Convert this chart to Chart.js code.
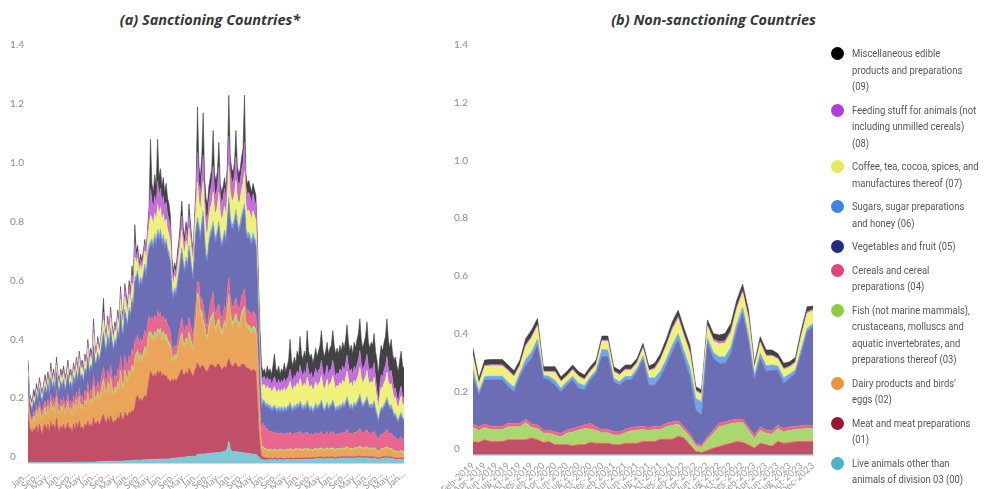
<!DOCTYPE html>
<html>
<head>
<meta charset="utf-8">
<title>Food imports by SITC division</title>
<script src="https://cdn.jsdelivr.net/npm/chart.js@4.4.1/dist/chart.umd.min.js"></script>
<style>
  html, body { margin: 0; padding: 0; background: #fff; }
  body { width: 987px; height: 489px; position: relative; overflow: hidden; }
  .panel-title { position: absolute; top: 10px; font: italic 700 14.5px "Open Sans", Lato, sans-serif; color: #363636; text-align: center; line-height: 20px; white-space: nowrap; }
  #titleA { left: 0; width: 420px; }
  #titleB { left: 440px; width: 547px; }
  canvas { position: absolute; top: 0; }
  #cLeft { left: 0; }
  #cRight { left: 440px; }
  #legend { position: absolute; left: 831px; top: 45px; width: 156px; }
  .item { display: flex; align-items: flex-start; margin-bottom: 7px; }
  .dot { width: 13px; height: 13px; border-radius: 50%; flex: 0 0 13px; margin-top: 2px; margin-right: 8px; }
  .txt { font: 11.5px Roboto, sans-serif; color: #555; line-height: 16.5px; white-space: pre; transform: scaleX(0.82); transform-origin: 0 0; }
</style>
</head>
<body>
<div id="titleA" class="panel-title">(a) Sanctioning Countries*</div>
<div id="titleB" class="panel-title">(b) Non-sanctioning Countries</div>
<canvas id="cLeft" width="420" height="489"></canvas>
<canvas id="cRight" width="547" height="489"></canvas>
<div id="legend"></div>
<script>
// Product groups, bottom of the stack first (line breaks as set in the legend)
const seriesNames = [
  "Live animals other than\nanimals of division 03 (00)",
  "Meat and meat preparations\n(01)",
  "Dairy products and birds\u2019\neggs (02)",
  "Fish (not marine mammals),\ncrustaceans, molluscs and\naquatic invertebrates, and\npreparations thereof (03)",
  "Cereals and cereal\npreparations (04)",
  "Vegetables and fruit (05)",
  "Sugars, sugar preparations\nand honey (06)",
  "Coffee, tea, cocoa, spices, and\nmanufactures thereof (07)",
  "Feeding stuff for animals (not\nincluding unmilled cereals)\n(08)",
  "Miscellaneous edible\nproducts and preparations\n(09)"
];
const dotColors  = ["#4ab4c8", "#9e1232", "#e6953c", "#8dcc42", "#e5437b", "#282a82", "#3e86e1", "#e6e95c", "#b03ddc", "#000000"];
const fillColors = ["#7fc8d7", "#c14f67", "#eba55a", "#a9d870", "#e9678e", "#6b6eb4", "#6fa5ea", "#eef17c", "#c46fe0", "#424242"];

const MONTHS = ["Jan","Feb","Mar","Apr","May","Jun","Jul","Aug","Sep","Oct","Nov","Dec"];
function monthLabels(year, month, count) {
  const out = [];
  for (let k = 0; k < count; k++) {
    const m = (month + k) % 12, y = year + Math.floor((month + k) / 12);
    out.push(MONTHS[m] + "-" + y);
  }
  return out;
}
const sanctMonths = monthLabels(2002, 0, 265);   // Jan-2002 … Jan-2024
const nonMonths   = monthLabels(2019, 1, 59);    // Feb-2019 … Dec-2023

// ---- (a) sanctioning countries ----
const sanctLive = [
0.002,0.002,0.002,0.002,0.002,0.002,0.002,0.002,0.002,0.002,0.002,0.002,0.002,0.002,0.002,0.002,0.002,0.002,0.002,0.002,0.002,0.002,0.002,0.002,
0.002,0.002,0.002,0.002,0.002,0.002,0.002,0.003,0.003,0.003,0.003,0.003,0.003,0.003,0.003,0.003,0.003,0.003,0.003,0.003,0.003,0.003,0.003,0.003,
0.004,0.004,0.004,0.005,0.005,0.005,0.005,0.005,0.006,0.006,0.006,0.006,0.006,0.006,0.007,0.007,0.007,0.007,0.007,0.007,0.008,0.008,0.008,0.008,0.008,0.009,0.009,0.01,
0.01,0.01,0.01,0.01,0.01,0.011,0.011,0.011,0.012,0.012,0.012,0.012,0.012,0.013,0.013,0.013,0.013,0.013,0.014,0.014,0.014,0.014,0.014,0.014,0.015,
0.016,0.016,0.017,0.017,0.018,0.018,0.019,0.019,0.02,0.02,0.021,0.021,0.022,0.022,0.022,0.023,0.023,0.024,
0.03,0.03,0.03,0.031,0.031,0.031,0.032,0.032,0.033,0.033,0.034,0.034,0.035,0.035,0.036,0.036,0.037,0.037,0.038,0.04,0.042,0.05,0.075,0.05,0.04,0.038,0.038,0.04,0.038,0.037,0.036,0.036,0.035,0.035,0.034,0.033,0.032,0.032,0.031,0.03,0.03,0.03,
0.025,0.02,0.015,0.012,
0.011,0.010,0.011,0.010,0.011,0.012,0.011,0.010,0.012,0.011,
0.010,0.011,0.012,0.011,0.010,0.011,0.011,0.012,0.011,0.012,
0.012,0.011,0.012,0.013,0.012,0.012,0.013,0.012,0.012,0.013,
0.013,0.014,0.013,0.012,0.014,0.013,0.014,0.015,0.014,0.015,
0.015,0.016,0.015,0.014,0.015,0.016,0.015,0.016,0.015,0.016,
0.015,0.014,0.015,0.016,0.015,0.016,0.017,0.016,0.017,0.018,
0.017,0.016,0.017,0.016,0.017,0.018,0.017,0.018,0.019,0.018,
0.017,0.018,0.017,0.018,0.017,0.016,0.017,0.016,0.017,0.015,
0.014,0.012,0.014,0.015,0.016,0.017,0.017,0.018,0.017,0.016,
0.016,0.015,0.014,0.013,0.012,0.012,0.013,0.013,0.012,0.012
];
const sanctMeat = [
0.17,0.12,0.11,0.10,0.115,0.11,0.125,0.10,0.13,0.11,0.095,0.12,0.13,0.11,0.13,0.10,0.14,0.12,0.13,0.11,0.15,0.12,0.105,0.125,
0.115,0.13,0.11,0.12,0.135,0.11,0.12,0.10,0.13,0.11,0.135,0.115,0.14,0.115,0.12,0.11,0.13,0.12,0.14,0.12,0.13,0.12,0.15,0.13,
0.13,0.14,0.125,0.135,0.15,0.16,0.14,0.13,0.15,0.13,0.155,0.14,0.13,0.14,0.135,0.15,0.14,0.165,0.145,0.14,0.165,0.155,0.15,0.165,0.16,0.17,0.165,0.18,
0.21,0.22,0.20,0.21,0.20,0.21,0.22,0.21,0.24,0.27,0.30,0.29,0.28,0.29,0.28,0.30,0.29,0.30,0.28,0.29,0.28,0.285,0.27,0.27,0.26,
0.27,0.26,0.27,0.26,0.27,0.28,0.29,0.30,0.28,0.28,0.29,0.28,0.30,0.29,0.28,0.27,0.29,0.30,
0.31,0.30,0.29,0.30,0.30,0.29,0.28,0.28,0.29,0.30,0.30,0.30,0.29,0.29,0.30,0.30,0.29,0.28,0.285,0.29,0.28,0.29,0.28,0.29,0.29,0.29,0.30,0.30,0.29,0.29,0.29,0.30,0.30,0.30,0.29,0.29,0.29,0.285,0.28,0.29,0.285,0.28,
0.20,0.10,0.04,0.01,
0.010,0.008,0.007,0.006,0.005,0.006,0.005,0.004,0.005,0.006,
0.005,0.004,0.005,0.006,0.005,0.004,0.005,0.005,0.004,0.005,
0.005,0.004,0.005,0.005,0.004,0.005,0.005,0.004,0.005,0.005,
0.005,0.004,0.005,0.005,0.004,0.005,0.005,0.004,0.005,0.005,
0.005,0.004,0.005,0.004,0.005,0.005,0.004,0.005,0.005,0.004,
0.005,0.004,0.005,0.005,0.004,0.005,0.005,0.004,0.005,0.005,
0.005,0.004,0.005,0.004,0.005,0.005,0.004,0.005,0.005,0.004,
0.005,0.004,0.005,0.005,0.004,0.005,0.005,0.004,0.005,0.004,
0.004,0.004,0.005,0.004,0.005,0.005,0.004,0.005,0.005,0.004,
0.005,0.004,0.004,0.004,0.004,0.004,0.004,0.004,0.004,0.004
];
const sanctDairy = [
0.04,0.03,0.025,0.03,0.035,0.03,0.045,0.045,0.05,0.045,0.05,0.045,0.05,0.045,0.055,0.05,0.06,0.05,0.06,0.05,0.065,0.055,0.05,0.06,
0.055,0.06,0.05,0.055,0.065,0.055,0.06,0.055,0.065,0.06,0.07,0.06,0.075,0.065,0.07,0.06,0.075,0.07,0.09,0.07,0.08,0.075,0.10,0.08,
0.08,0.09,0.085,0.09,0.10,0.11,0.10,0.09,0.11,0.095,0.12,0.10,0.09,0.10,0.095,0.11,0.10,0.13,0.11,0.105,0.13,0.12,0.115,0.13,0.12,0.14,0.13,0.15,
0.14,0.14,0.13,0.14,0.13,0.14,0.15,0.14,0.15,0.15,0.12,0.12,0.12,0.13,0.12,0.13,0.13,0.13,0.12,0.13,0.12,0.125,0.12,0.115,0.11,
0.07,0.065,0.07,0.07,0.08,0.09,0.10,0.11,0.10,0.09,0.10,0.095,0.11,0.10,0.09,0.085,0.12,0.15,
0.22,0.22,0.18,0.17,0.14,0.13,0.11,0.10,0.13,0.14,0.15,0.16,0.13,0.12,0.13,0.14,0.12,0.115,0.12,0.14,0.13,0.17,0.20,0.16,0.14,0.13,0.14,0.15,0.14,0.13,0.14,0.16,0.17,0.18,0.14,0.13,0.13,0.13,0.125,0.13,0.13,0.13,
0.15,0.12,0.06,0.03,
0.030,0.028,0.026,0.027,0.025,0.026,0.024,0.025,0.027,0.025,
0.024,0.026,0.025,0.027,0.024,0.026,0.025,0.027,0.026,0.028,
0.026,0.025,0.027,0.026,0.028,0.026,0.028,0.027,0.025,0.027,
0.025,0.028,0.026,0.024,0.026,0.023,0.025,0.027,0.024,0.026,
0.026,0.028,0.025,0.023,0.025,0.027,0.024,0.026,0.026,0.028,
0.025,0.023,0.025,0.024,0.026,0.024,0.026,0.025,0.027,0.029,
0.026,0.024,0.025,0.023,0.026,0.025,0.027,0.028,0.030,0.027,
0.025,0.026,0.027,0.029,0.026,0.025,0.026,0.025,0.027,0.024,
0.022,0.018,0.022,0.025,0.024,0.026,0.027,0.029,0.026,0.025,
0.025,0.023,0.021,0.022,0.020,0.019,0.021,0.022,0.020,0.020
];
const sanctFish = [
0.008,0.008,0.008,0.008,0.008,0.008,0.008,0.008,0.008,0.008,0.008,0.008,0.008,0.008,0.008,0.008,0.008,0.008,0.008,0.008,0.008,0.008,0.008,0.008,
0.008,0.008,0.008,0.008,0.008,0.008,0.008,0.008,0.008,0.008,0.008,0.008,0.008,0.008,0.008,0.008,0.008,0.008,0.008,0.008,0.008,0.008,0.008,0.008,
0.01,0.01,0.01,0.01,0.011,0.012,0.011,0.011,0.012,0.011,0.012,0.011,0.011,0.012,0.011,0.012,0.012,0.013,0.012,0.012,0.013,0.013,0.012,0.013,0.013,0.014,0.014,0.015,
0.014,0.014,0.013,0.014,0.014,0.014,0.015,0.014,0.015,0.015,0.015,0.015,0.015,0.015,0.015,0.015,0.015,0.016,0.015,0.015,0.015,0.015,0.015,0.014,0.014,
0.013,0.012,0.013,0.012,0.013,0.014,0.014,0.015,0.014,0.014,0.014,0.014,0.015,0.014,0.014,0.013,0.015,0.016,
0.018,0.018,0.017,0.017,0.017,0.016,0.016,0.015,0.016,0.016,0.017,0.018,0.016,0.016,0.016,0.017,0.016,0.016,0.016,0.016,0.016,0.017,0.018,0.017,0.017,0.017,0.017,0.018,0.017,0.017,0.017,0.017,0.018,0.018,0.017,0.016,0.016,0.016,0.016,0.016,0.016,0.016,
0.012,0.008,0.006,0.005,
0.005,0.005,0.004,0.004,0.004,0.004,0.004,0.004,0.004,0.004,
0.004,0.004,0.004,0.004,0.004,0.004,0.004,0.004,0.004,0.004,
0.004,0.004,0.004,0.004,0.004,0.004,0.004,0.004,0.004,0.004,
0.004,0.004,0.004,0.004,0.004,0.004,0.004,0.004,0.004,0.004,
0.004,0.004,0.004,0.004,0.004,0.004,0.004,0.004,0.004,0.004,
0.004,0.004,0.004,0.004,0.004,0.004,0.004,0.004,0.004,0.004,
0.004,0.004,0.004,0.004,0.004,0.004,0.004,0.004,0.004,0.004,
0.004,0.004,0.004,0.004,0.004,0.004,0.004,0.004,0.004,0.004,
0.004,0.003,0.004,0.004,0.004,0.004,0.004,0.004,0.004,0.004,
0.004,0.004,0.003,0.003,0.003,0.003,0.003,0.004,0.003,0.003
];
const sanctCereal = [
0.02,0.015,0.015,0.012,0.016,0.015,0.018,0.015,0.02,0.018,0.016,0.02,0.022,0.02,0.022,0.018,0.025,0.02,0.024,0.02,0.026,0.022,0.02,0.024,
0.022,0.025,0.022,0.024,0.027,0.022,0.025,0.022,0.026,0.024,0.028,0.025,0.03,0.026,0.028,0.025,0.03,0.028,0.034,0.028,0.03,0.028,0.04,0.032,
0.03,0.034,0.03,0.033,0.036,0.04,0.035,0.035,0.04,0.036,0.042,0.038,0.035,0.04,0.037,0.042,0.04,0.05,0.042,0.04,0.05,0.046,0.044,0.05,0.046,0.055,0.05,0.06,
0.05,0.052,0.048,0.05,0.05,0.052,0.055,0.05,0.055,0.05,0.04,0.06,0.05,0.055,0.05,0.06,0.05,0.055,0.05,0.052,0.05,0.052,0.05,0.048,0.046,
0.03,0.03,0.032,0.03,0.035,0.04,0.045,0.05,0.045,0.042,0.045,0.043,0.05,0.046,0.042,0.04,0.05,0.055,
0.04,0.045,0.04,0.045,0.05,0.04,0.035,0.035,0.04,0.05,0.06,0.07,0.05,0.045,0.05,0.05,0.045,0.045,0.045,0.05,0.05,0.06,0.06,0.05,0.05,0.05,0.05,0.055,0.05,0.048,0.05,0.055,0.055,0.06,0.05,0.048,0.05,0.048,0.047,0.05,0.048,0.048,
0.05,0.05,0.05,0.048,
0.080,0.075,0.070,0.070,0.065,0.060,0.062,0.058,0.060,0.056,
0.055,0.057,0.054,0.056,0.053,0.055,0.052,0.055,0.054,0.056,
0.053,0.052,0.055,0.053,0.056,0.054,0.058,0.055,0.052,0.054,
0.052,0.056,0.053,0.050,0.052,0.048,0.050,0.054,0.050,0.052,
0.052,0.056,0.050,0.048,0.050,0.054,0.049,0.052,0.052,0.056,
0.052,0.048,0.050,0.049,0.052,0.050,0.053,0.051,0.054,0.058,
0.053,0.050,0.052,0.049,0.053,0.051,0.054,0.056,0.060,0.054,
0.051,0.053,0.055,0.058,0.053,0.050,0.052,0.051,0.055,0.049,
0.045,0.040,0.046,0.050,0.049,0.052,0.054,0.058,0.053,0.050,
0.052,0.048,0.045,0.046,0.042,0.040,0.044,0.046,0.042,0.042
];
const sanctVeg = [
0.05,0.03,0.03,0.028,0.032,0.03,0.035,0.035,0.04,0.038,0.035,0.04,0.045,0.045,0.048,0.042,0.05,0.048,0.05,0.048,0.055,0.05,0.052,0.055,
0.052,0.055,0.052,0.056,0.06,0.056,0.058,0.056,0.06,0.06,0.064,0.062,0.068,0.065,0.068,0.066,0.07,0.07,0.08,0.074,0.078,0.078,0.095,0.085,
0.085,0.09,0.09,0.095,0.10,0.11,0.105,0.105,0.11,0.108,0.115,0.11,0.108,0.115,0.115,0.125,0.125,0.14,0.13,0.13,0.145,0.14,0.135,0.15,0.145,0.16,0.155,0.20,
0.20,0.205,0.19,0.195,0.20,0.205,0.21,0.205,0.22,0.23,0.25,0.25,0.25,0.26,0.26,0.26,0.26,0.265,0.26,0.26,0.25,0.255,0.245,0.24,0.23,
0.18,0.175,0.18,0.18,0.19,0.20,0.21,0.22,0.21,0.20,0.215,0.205,0.225,0.215,0.20,0.19,0.22,0.24,
0.20,0.18,0.20,0.24,0.30,0.24,0.22,0.225,0.23,0.23,0.22,0.22,0.24,0.245,0.245,0.26,0.245,0.24,0.245,0.24,0.23,0.22,0.25,0.25,0.26,0.27,0.27,0.28,0.27,0.26,0.265,0.26,0.265,0.27,0.25,0.245,0.25,0.245,0.24,0.25,0.24,0.235,
0.18,0.14,0.10,0.075,
0.070,0.075,0.070,0.078,0.074,0.080,0.072,0.078,0.080,0.076,
0.074,0.080,0.072,0.078,0.075,0.082,0.076,0.080,0.084,0.090,
0.082,0.078,0.084,0.080,0.088,0.084,0.092,0.086,0.080,0.086,
0.082,0.095,0.086,0.080,0.084,0.076,0.082,0.088,0.082,0.086,
0.088,0.096,0.085,0.080,0.084,0.090,0.082,0.086,0.088,0.096,
0.088,0.080,0.085,0.082,0.088,0.084,0.090,0.086,0.092,0.100,
0.090,0.084,0.088,0.082,0.090,0.086,0.092,0.096,0.105,0.092,
0.086,0.090,0.094,0.100,0.090,0.085,0.088,0.086,0.092,0.080,
0.070,0.060,0.072,0.082,0.080,0.086,0.090,0.098,0.088,0.084,
0.086,0.078,0.070,0.072,0.064,0.060,0.068,0.074,0.064,0.064
];
const sanctSugar = [
0.006,0.006,0.006,0.006,0.006,0.006,0.006,0.006,0.006,0.006,0.006,0.006,0.006,0.006,0.006,0.006,0.006,0.006,0.006,0.006,0.006,0.006,0.006,0.006,
0.006,0.006,0.006,0.006,0.006,0.006,0.006,0.006,0.006,0.006,0.006,0.006,0.006,0.006,0.006,0.006,0.006,0.006,0.006,0.006,0.006,0.006,0.006,0.006,
0.008,0.008,0.008,0.009,0.009,0.01,0.009,0.009,0.01,0.009,0.01,0.01,0.009,0.01,0.01,0.011,0.01,0.012,0.011,0.011,0.012,0.012,0.011,0.012,0.012,0.013,0.013,0.015,
0.014,0.014,0.013,0.014,0.014,0.014,0.015,0.014,0.015,0.015,0.015,0.015,0.015,0.016,0.015,0.016,0.015,0.016,0.015,0.015,0.015,0.015,0.015,0.015,0.014,
0.014,0.013,0.014,0.013,0.014,0.015,0.015,0.016,0.015,0.015,0.015,0.015,0.016,0.015,0.015,0.014,0.016,0.016,
0.017,0.017,0.017,0.017,0.018,0.016,0.015,0.015,0.016,0.016,0.017,0.018,0.016,0.016,0.016,0.017,0.016,0.016,0.016,0.016,0.016,0.017,0.018,0.017,0.017,0.017,0.017,0.018,0.017,0.017,0.017,0.017,0.018,0.018,0.017,0.016,0.016,0.016,0.016,0.016,0.016,0.016,
0.014,0.012,0.01,0.01,
0.010,0.010,0.009,0.010,0.010,0.010,0.009,0.010,0.010,0.010,
0.010,0.010,0.009,0.010,0.010,0.010,0.010,0.010,0.011,0.011,
0.010,0.010,0.011,0.010,0.011,0.010,0.011,0.011,0.010,0.011,
0.010,0.011,0.010,0.010,0.010,0.009,0.010,0.011,0.010,0.010,
0.010,0.011,0.010,0.010,0.010,0.011,0.010,0.010,0.010,0.011,
0.010,0.010,0.010,0.010,0.010,0.010,0.011,0.010,0.011,0.012,
0.011,0.010,0.010,0.010,0.011,0.010,0.011,0.011,0.012,0.011,
0.010,0.011,0.011,0.012,0.010,0.010,0.010,0.010,0.011,0.010,
0.009,0.008,0.009,0.010,0.010,0.010,0.011,0.012,0.010,0.010,
0.010,0.010,0.009,0.009,0.008,0.008,0.009,0.009,0.008,0.008
];
const sanctCoffee = [
0.02,0.012,0.01,0.01,0.012,0.01,0.012,0.012,0.015,0.013,0.012,0.014,0.016,0.014,0.016,0.013,0.02,0.016,0.018,0.016,0.02,0.017,0.016,0.018,
0.017,0.02,0.018,0.019,0.022,0.018,0.02,0.018,0.021,0.02,0.023,0.02,0.025,0.022,0.023,0.021,0.025,0.024,0.03,0.025,0.027,0.026,0.04,0.03,
0.02,0.028,0.022,0.025,0.03,0.04,0.03,0.028,0.032,0.028,0.035,0.03,0.027,0.03,0.028,0.033,0.03,0.04,0.032,0.03,0.042,0.038,0.035,0.045,0.04,0.05,0.045,0.07,
0.04,0.042,0.038,0.04,0.035,0.04,0.045,0.04,0.05,0.06,0.09,0.07,0.065,0.07,0.065,0.085,0.07,0.075,0.065,0.07,0.065,0.068,0.063,0.06,0.058,
0.045,0.035,0.04,0.037,0.045,0.05,0.055,0.06,0.05,0.05,0.055,0.05,0.06,0.055,0.048,0.045,0.055,0.065,
0.12,0.08,0.08,0.09,0.10,0.085,0.08,0.075,0.08,0.08,0.085,0.10,0.08,0.08,0.082,0.10,0.08,0.075,0.078,0.08,0.075,0.085,0.11,0.085,0.08,0.08,0.082,0.10,0.08,0.078,0.08,0.085,0.09,0.11,0.08,0.075,0.076,0.074,0.072,0.075,0.073,0.07,
0.06,0.06,0.06,0.06,
0.050,0.055,0.052,0.058,0.056,0.058,0.054,0.060,0.062,0.058,
0.056,0.060,0.055,0.060,0.058,0.064,0.058,0.062,0.066,0.072,
0.064,0.060,0.066,0.064,0.070,0.068,0.076,0.070,0.066,0.072,
0.068,0.080,0.072,0.068,0.072,0.064,0.068,0.074,0.068,0.072,
0.075,0.082,0.072,0.066,0.070,0.078,0.068,0.072,0.075,0.082,
0.074,0.066,0.070,0.068,0.074,0.070,0.076,0.072,0.078,0.086,
0.076,0.070,0.074,0.068,0.076,0.072,0.078,0.082,0.090,0.078,
0.072,0.076,0.080,0.088,0.076,0.072,0.076,0.074,0.080,0.066,
0.050,0.040,0.055,0.068,0.066,0.072,0.076,0.085,0.074,0.070,
0.072,0.062,0.052,0.055,0.045,0.040,0.050,0.056,0.045,0.045
];
const sanctFeed = [
0.01,0.007,0.006,0.006,0.008,0.007,0.008,0.007,0.009,0.008,0.007,0.008,0.01,0.008,0.01,0.008,0.012,0.01,0.011,0.01,0.012,0.011,0.01,0.012,
0.011,0.012,0.01,0.011,0.013,0.011,0.012,0.011,0.013,0.012,0.014,0.012,0.015,0.013,0.014,0.013,0.015,0.014,0.018,0.015,0.016,0.015,0.025,0.018,
0.01,0.014,0.01,0.012,0.015,0.025,0.015,0.014,0.018,0.015,0.02,0.015,0.014,0.016,0.015,0.018,0.016,0.025,0.018,0.016,0.026,0.022,0.02,0.027,0.022,0.03,0.027,0.05,
0.022,0.023,0.02,0.021,0.02,0.022,0.025,0.022,0.03,0.04,0.09,0.06,0.055,0.06,0.055,0.08,0.06,0.065,0.06,0.062,0.055,0.058,0.052,0.05,0.048,
0.03,0.025,0.025,0.024,0.03,0.03,0.04,0.05,0.035,0.033,0.038,0.035,0.045,0.04,0.032,0.028,0.035,0.045,
0.10,0.06,0.055,0.07,0.09,0.06,0.055,0.05,0.055,0.06,0.065,0.09,0.065,0.06,0.065,0.085,0.06,0.055,0.058,0.062,0.055,0.07,0.10,0.07,0.065,0.062,0.065,0.08,0.065,0.062,0.064,0.068,0.07,0.10,0.065,0.06,0.06,0.058,0.056,0.058,0.056,0.05,
0.04,0.04,0.04,0.035,
0.025,0.028,0.026,0.030,0.028,0.030,0.027,0.030,0.034,0.030,
0.029,0.032,0.028,0.030,0.030,0.033,0.030,0.032,0.034,0.040,
0.034,0.032,0.036,0.035,0.040,0.038,0.045,0.040,0.037,0.042,
0.040,0.050,0.042,0.040,0.042,0.038,0.042,0.045,0.042,0.045,
0.046,0.052,0.045,0.040,0.044,0.048,0.042,0.045,0.046,0.052,
0.045,0.040,0.043,0.042,0.046,0.044,0.048,0.045,0.049,0.055,
0.047,0.043,0.046,0.042,0.047,0.045,0.048,0.051,0.058,0.048,
0.045,0.047,0.050,0.056,0.047,0.044,0.046,0.045,0.050,0.040,
0.030,0.022,0.032,0.042,0.040,0.045,0.048,0.055,0.046,0.043,
0.045,0.038,0.030,0.032,0.026,0.022,0.030,0.034,0.026,0.026
];
const sanctMisc = [
0.024,0.01,0.008,0.008,0.016,0.012,0.011,0.01,0.01,0.012,0.009,0.007,0.011,0.012,0.013,0.013,0.017,0.01,0.011,0.01,0.016,0.009,0.011,0.01,
0.012,0.012,0.012,0.009,0.012,0.012,0.009,0.011,0.008,0.007,0.009,0.009,0.01,0.007,0.01,0.008,0.008,0.007,0.011,0.011,0.012,0.011,0.023,0.008,
0.003,0.012,0.006,0.006,0.014,0.048,0.01,0.013,0.012,0.012,0.015,0.01,0.01,0.011,0.007,0.012,0.01,0.018,0.013,0.009,0.019,0.016,0.01,0.02,0.014,0.029,0.022,0.06,
0.02,0.02,0.018,0.016,0.017,0.012,0.014,0.014,0.013,0.028,0.168,0.058,0.058,0.071,0.067,0.141,0.067,0.065,0.062,0.062,0.056,0.063,0.056,0.054,0.045,
0.032,0.019,0.019,0.017,0.025,0.023,0.032,0.05,0.031,0.026,0.027,0.022,0.037,0.023,0.017,0.012,0.016,0.029,
0.155,0.06,0.061,0.06,0.144,0.062,0.057,0.053,0.05,0.045,0.052,0.12,0.058,0.053,0.05,0.085,0.041,0.041,0.039,0.036,0.036,0.041,0.139,0.051,0.041,0.036,0.041,0.089,0.043,0.041,0.041,0.042,0.049,0.159,0.039,0.037,0.04,0.036,0.037,0.035,0.036,0.035,
0.039,0.04,0.059,0.045,
0.019,0.026,0.025,0.037,0.032,0.034,0.032,0.051,0.076,0.044,
0.043,0.046,0.036,0.038,0.041,0.051,0.039,0.043,0.056,0.102,
0.06,0.054,0.06,0.05,0.067,0.059,0.098,0.061,0.059,0.066,
0.061,0.108,0.069,0.067,0.062,0.06,0.06,0.068,0.061,0.065,
0.079,0.101,0.079,0.071,0.073,0.077,0.072,0.074,0.079,0.101,
0.082,0.081,0.083,0.07,0.081,0.073,0.08,0.077,0.083,0.103,
0.081,0.075,0.079,0.072,0.081,0.074,0.085,0.089,0.107,0.084,
0.075,0.081,0.087,0.11,0.083,0.079,0.086,0.085,0.099,0.088,
0.102,0.093,0.101,0.10,0.086,0.093,0.099,0.126,0.097,0.084,
0.105,0.088,0.102,0.104,0.106,0.102,0.108,0.118,0.106,0.096
];

// ---- (b) non-sanctioning countries ----
const nonLive = [
0.001,0.001,0.001,0.001,0.001,0.001,0.001,0.001,0.001,0.001,0.001,0.001,0.001,0.001,0.001,0.001,0.001,0.001,0.001,0.001,
0.001,0.001,0.001,0.001,0.001,0.001,0.001,0.001,0.001,0.001,0.001,0.001,0.001,0.001,0.001,0.001,0.001,0.001,0.001,0.001,
0.001,0.001,0.001,0.001,0.001,0.001,0.001,0.001,0.001,0.001,0.001,0.001,0.001,0.001,0.001,0.001,0.001,0.001,0.001
];
const nonMeat = [
0.045,0.042,0.051,0.045,0.045,0.045,0.051,0.051,0.051,0.051,0.057,0.051,0.042,0.045,0.034,0.034,0.034,0.030,0.034,0.034,
0.042,0.039,0.039,0.039,0.034,0.034,0.039,0.039,0.039,0.045,0.045,0.045,0.053,0.053,0.053,0.063,0.057,0.034,0.011,0.007,
0.014,0.022,0.028,0.034,0.039,0.045,0.042,0.034,0.022,0.039,0.034,0.029,0.045,0.039,0.041,0.044,0.045,0.045,0.045
];
const nonDairy = [
0.004,0.004,0.004,0.004,0.004,0.004,0.004,0.004,0.004,0.004,0.004,0.004,0.004,0.004,0.004,0.004,0.004,0.004,0.004,0.004,
0.004,0.004,0.004,0.004,0.004,0.004,0.004,0.004,0.004,0.004,0.004,0.004,0.004,0.004,0.004,0.004,0.004,0.004,0.004,0.004,
0.004,0.004,0.004,0.004,0.004,0.004,0.004,0.004,0.004,0.004,0.004,0.004,0.004,0.004,0.004,0.004,0.004,0.004,0.004
];
const nonFish = [
0.045,0.039,0.039,0.038,0.038,0.038,0.042,0.042,0.042,0.056,0.033,0.036,0.028,0.025,0.030,0.024,0.036,0.045,0.047,0.053,
0.043,0.042,0.033,0.033,0.030,0.030,0.033,0.040,0.042,0.038,0.034,0.038,0.030,0.040,0.045,0.039,0.024,0.024,0.016,0.015,
0.035,0.048,0.065,0.064,0.065,0.062,0.066,0.047,0.030,0.042,0.036,0.038,0.042,0.036,0.040,0.039,0.040,0.042,0.042
];
const nonCereal = [
0.012,0.012,0.012,0.012,0.012,0.012,0.012,0.012,0.012,0.012,0.012,0.012,0.012,0.012,0.012,0.012,0.012,0.012,0.012,0.012,
0.020,0.012,0.012,0.012,0.012,0.012,0.012,0.012,0.012,0.012,0.012,0.012,0.012,0.012,0.012,0.012,0.012,0.012,0.008,0.008,
0.010,0.012,0.012,0.012,0.012,0.012,0.012,0.012,0.012,0.012,0.012,0.012,0.012,0.012,0.012,0.012,0.012,0.012,0.012
];
const nonVeg = [
0.164,0.110,0.153,0.160,0.160,0.160,0.127,0.109,0.161,0.188,0.228,0.277,0.179,0.173,0.161,0.144,0.155,0.168,0.133,0.121,
0.150,0.185,0.252,0.252,0.173,0.161,0.171,0.164,0.191,0.229,0.146,0.142,0.171,0.202,0.243,0.279,0.237,0.196,0.116,0.104,
0.323,0.248,0.208,0.203,0.231,0.309,0.366,0.295,0.191,0.237,0.202,0.210,0.190,0.156,0.168,0.183,0.250,0.323,0.341
];
const nonSugar = [
0.025,0.012,0.012,0.013,0.013,0.013,0.015,0.016,0.013,0.020,0.022,0.020,0.010,0.012,0.016,0.012,0.012,0.012,0.018,0.015,
0.010,0.010,0.025,0.022,0.012,0.012,0.012,0.012,0.012,0.014,0.025,0.025,0.020,0.020,0.022,0.022,0.024,0.030,0.040,0.045,
0.018,0.020,0.022,0.022,0.022,0.022,0.020,0.022,0.016,0.018,0.020,0.018,0.014,0.020,0.014,0.012,0.014,0.012,0.010
];
const nonCoffee = [
0.045,0.025,0.035,0.036,0.036,0.035,0.038,0.035,0.025,0.045,0.048,0.045,0.012,0.015,0.028,0.022,0.018,0.022,0.022,0.020,
0.018,0.018,0.028,0.030,0.022,0.022,0.022,0.022,0.018,0.026,0.024,0.030,0.038,0.046,0.052,0.052,0.050,0.050,0.025,0.025,
0.040,0.040,0.045,0.048,0.050,0.050,0.050,0.055,0.025,0.035,0.032,0.030,0.024,0.028,0.024,0.024,0.045,0.052,0.045
];
const nonFeed = [
0.005,0.004,0.004,0.004,0.004,0.005,0.005,0.005,0.004,0.005,0.006,0.005,0.003,0.003,0.004,0.004,0.003,0.004,0.004,0.003,
0.004,0.004,0.004,0.005,0.004,0.004,0.004,0.004,0.003,0.004,0.003,0.005,0.005,0.006,0.008,0.008,0.008,0.008,0.004,0.004,
0.005,0.006,0.008,0.008,0.008,0.008,0.008,0.008,0.004,0.005,0.005,0.004,0.004,0.004,0.004,0.004,0.005,0.006,0.004
];
const nonMisc = [
0.024,0.017,0.018,0.018,0.018,0.018,0.017,0.017,0.016,0.022,0.022,0.022,0.015,0.016,0.016,0.014,0.014,0.014,0.014,0.014,
0.014,0.014,0.014,0.014,0.014,0.014,0.014,0.014,0.013,0.014,0.014,0.016,0.018,0.020,0.022,0.022,0.022,0.022,0.012,0.012,
0.018,0.020,0.023,0.025,0.024,0.024,0.023,0.024,0.013,0.017,0.018,0.018,0.016,0.018,0.015,0.015,0.017,0.017,0.012
];

const sanctSeries = [sanctLive, sanctMeat, sanctDairy, sanctFish, sanctCereal, sanctVeg, sanctSugar, sanctCoffee, sanctFeed, sanctMisc];
const nonSeries   = [nonLive, nonMeat, nonDairy, nonFish, nonCereal, nonVeg, nonSugar, nonCoffee, nonFeed, nonMisc];

const TICK_FONT = "Lato, 'Open Sans', sans-serif";

function stackedArea(canvasId, labels, series, cfg) {
  return new Chart(document.getElementById(canvasId), {
    type: 'line',
    data: {
      labels: labels,
      datasets: series.map((values, k) => ({
        label: seriesNames[k].replace(/\n/g, ' '),
        data: values,
        backgroundColor: fillColors[k],
        borderColor: fillColors[k],
        borderWidth: 0.6,
        pointRadius: 0,
        pointHoverRadius: 0,
        tension: 0,
        fill: k === 0 ? 'origin' : '-1'
      }))
    },
    options: {
      responsive: false,
      animation: false,
      events: [],
      layout: { padding: cfg.padding },
      plugins: { legend: { display: false }, tooltip: { enabled: false }, title: { display: false } },
      scales: {
        x: {
          grid: { display: false, drawTicks: false },
          border: { display: true, color: '#d8d8d8', width: 1 },
          ticks: {
            autoSkip: false, minRotation: 42, maxRotation: 42, padding: 5,
            color: '#9a9a9a', font: { family: TICK_FONT, size: 9.5 },
            callback: cfg.tickLabel
          },
          afterFit: s => { s.height = cfg.xHeight; s.paddingLeft = 0; s.paddingRight = 0; }
        },
        y: {
          stacked: true, min: 0, max: 1.4,
          grid: { display: false, drawTicks: false },
          border: { display: false },
          ticks: {
            stepSize: 0.2, crossAlign: 'far', labelOffset: -6, padding: 0,
            color: '#8a8a8a', font: { family: TICK_FONT, size: 10 },
            callback: v => (v === 0 ? '0' : v.toFixed(1))
          },
          afterFit: s => { s.width = cfg.yWidth; s.paddingTop = 0; s.paddingBottom = 0; }
        }
      }
    }
  });
}

// (a): every eighth month labelled, names shortened
stackedArea('cLeft', sanctMonths, sanctSeries, {
  padding: { left: 10, right: 16, top: 51, bottom: 0 },
  yWidth: 18, xHeight: 26,
  tickLabel: (v, i) => (i % 8 === 0 ? sanctMonths[i].slice(0, 3) + '\u2026' : null)
});

// (b): every second month labelled
stackedArea('cRight', nonMonths, nonSeries, {
  padding: { left: 14, right: 174, top: 51, bottom: 0 },
  yWidth: 19, xHeight: 34,
  tickLabel: (v, i) => (i % 2 === 0 ? nonMonths[i] : null)
});

// Legend, top of the stack first
const legend = document.getElementById('legend');
for (let k = seriesNames.length - 1; k >= 0; k--) {
  const item = document.createElement('div');
  item.className = 'item';
  const dot = document.createElement('span');
  dot.className = 'dot';
  dot.style.background = dotColors[k];
  const txt = document.createElement('span');
  txt.className = 'txt';
  txt.textContent = seriesNames[k];
  item.appendChild(dot);
  item.appendChild(txt);
  legend.appendChild(item);
}
</script>
</body>
</html>
